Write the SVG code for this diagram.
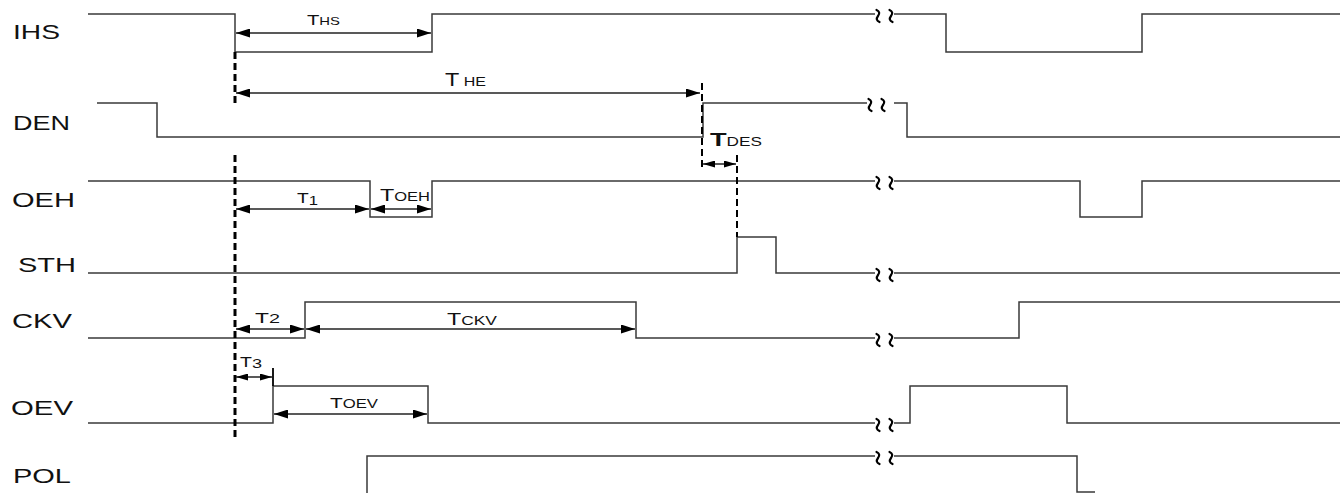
<svg xmlns="http://www.w3.org/2000/svg" width="1340" height="493" viewBox="0 0 1340 493">
<defs>
<style>
.w{fill:none;stroke:#3a3a3a;stroke-width:1.5}
.br{fill:none;stroke:#000;stroke-width:2.2;stroke-linecap:round}
.lb{font-family:"Liberation Sans",Arial,sans-serif;font-size:20px;fill:#111}
.tl{font-family:"Liberation Sans",Arial,sans-serif;fill:#111}
.ar{stroke:#222;stroke-width:1.4;marker-start:url(#ah);marker-end:url(#ah)}
.ars{stroke:#222;stroke-width:1.4;marker-start:url(#ahs);marker-end:url(#ahs)}
.dash{stroke:#000;stroke-width:3;stroke-dasharray:7 4;fill:none}
.dash2{stroke:#000;stroke-width:2;stroke-dasharray:7 4;fill:none}
</style>
<marker id="ah" viewBox="0 0 14 9" refX="14" refY="4.5" markerWidth="14" markerHeight="9" orient="auto-start-reverse" markerUnits="userSpaceOnUse"><path d="M0,0 L14,4.5 L0,9 z" fill="#000"/></marker>
<marker id="ahs" viewBox="0 0 12 7" refX="12" refY="3.5" markerWidth="12" markerHeight="7" orient="auto-start-reverse" markerUnits="userSpaceOnUse"><path d="M0,0 L12,3.5 L0,7 z" fill="#000"/></marker>
<path id="sq" d="M-1.5,-6 Q3,-4 0,0 Q-3,4 1.5,6" class="br"/>
</defs>
<rect width="1340" height="493" fill="#fff"/>

<g id="IHS">
<text class="lb" x="13" y="39" textLength="47" lengthAdjust="spacingAndGlyphs">IHS</text>
<path class="w" d="M88,14 H235 V52 H432 V14 H875 M894,14 H946 V52 H1142 V14 H1340"/>
<use href="#sq" x="878" y="16"/><use href="#sq" x="891" y="16"/>
</g>

<g id="DEN">
<text class="lb" x="13" y="130" textLength="57" lengthAdjust="spacingAndGlyphs">DEN</text>
<path class="w" d="M97,103 H157 V137 H703 V103 H867 M894,103 H907 V137 H1340"/>
<use href="#sq" x="870" y="105"/><use href="#sq" x="883" y="105"/>
</g>

<g id="OEH">
<text class="lb" x="12" y="207" textLength="63" lengthAdjust="spacingAndGlyphs">OEH</text>
<path class="w" d="M88,181 H370 V217 H432 V181 H875 M894,181 H1080 V217 H1142 V181 H1340"/>
<use href="#sq" x="878" y="183"/><use href="#sq" x="891" y="183"/>
</g>

<g id="STH">
<text class="lb" x="18" y="272" textLength="58" lengthAdjust="spacingAndGlyphs">STH</text>
<path class="w" d="M88,273 H737 V237 H776 V273 H875 M894,273 H1340"/>
<use href="#sq" x="878" y="275"/><use href="#sq" x="891" y="275"/>
</g>

<g id="CKV">
<text class="lb" x="12" y="328" textLength="60" lengthAdjust="spacingAndGlyphs">CKV</text>
<path class="w" d="M88,338 H305 V302 H636 V338 H875 M894,338 H1019 V302 H1340"/>
<use href="#sq" x="878" y="340"/><use href="#sq" x="891" y="340"/>
</g>

<g id="OEV">
<text class="lb" x="11" y="415" textLength="62" lengthAdjust="spacingAndGlyphs">OEV</text>
<path class="w" d="M88,423 H273 V386 H428 V423 H875 M894,423 H910 V386 H1067 V423 H1340"/>
<use href="#sq" x="878" y="425"/><use href="#sq" x="891" y="425"/>
</g>

<g id="POL">
<text class="lb" x="13" y="483" textLength="58" lengthAdjust="spacingAndGlyphs">POL</text>
<path class="w" d="M367,493 V456 H875 M894,456 H1077 V492 H1095"/>
<use href="#sq" x="878" y="458"/><use href="#sq" x="891" y="458"/>
</g>

<g id="connectors">
<path class="dash" d="M235,52 V103 M235,155 V438"/>
<path class="dash2" d="M702,83 V167 M737,155 V237"/>
<line class="ar" x1="236" y1="33" x2="431" y2="33"/>
<line class="ar" x1="236" y1="93" x2="700" y2="93"/>
<line class="ars" x1="703" y1="164" x2="736" y2="164"/>
<line class="ar" x1="236" y1="209" x2="369" y2="209"/>
<line class="ar" x1="371" y1="209" x2="431" y2="209"/>
<line class="ar" x1="236" y1="329" x2="304" y2="329"/>
<line class="ar" x1="306" y1="329" x2="635" y2="329"/>
<line class="ars" x1="236" y1="377" x2="272" y2="377"/>
<line class="ar" x1="274" y1="414" x2="427" y2="414"/>
<path d="M273,368 V386" stroke="#000" stroke-width="1.8"/>
</g>

<g id="labels">
<text class="tl" x="307" y="25" textLength="33" lengthAdjust="spacingAndGlyphs"><tspan font-size="15">T</tspan><tspan font-size="11">HS</tspan></text>
<text class="tl" x="445" y="86" textLength="41" lengthAdjust="spacingAndGlyphs"><tspan font-size="19">T</tspan><tspan font-size="13"> HE</tspan></text>
<text class="tl" x="710" y="146" textLength="52" lengthAdjust="spacingAndGlyphs"><tspan font-size="19" font-weight="bold">T</tspan><tspan font-size="12">DES</tspan></text>
<text class="tl" x="297" y="203" textLength="21" lengthAdjust="spacingAndGlyphs"><tspan font-size="15">T</tspan><tspan font-size="13" dy="2">1</tspan></text>
<text class="tl" x="380" y="201" textLength="50" lengthAdjust="spacingAndGlyphs"><tspan font-size="17">T</tspan><tspan font-size="12">OEH</tspan></text>
<text class="tl" x="255" y="323" textLength="25" lengthAdjust="spacingAndGlyphs"><tspan font-size="15">T</tspan><tspan font-size="13">2</tspan></text>
<text class="tl" x="447" y="325" textLength="50" lengthAdjust="spacingAndGlyphs"><tspan font-size="16">T</tspan><tspan font-size="12">CKV</tspan></text>
<text class="tl" x="240" y="367" textLength="22" lengthAdjust="spacingAndGlyphs"><tspan font-size="14">T</tspan><tspan font-size="13" dy="1">3</tspan></text>
<text class="tl" x="330" y="408" textLength="48" lengthAdjust="spacingAndGlyphs"><tspan font-size="15">T</tspan><tspan font-size="12">OEV</tspan></text>
</g>
</svg>
